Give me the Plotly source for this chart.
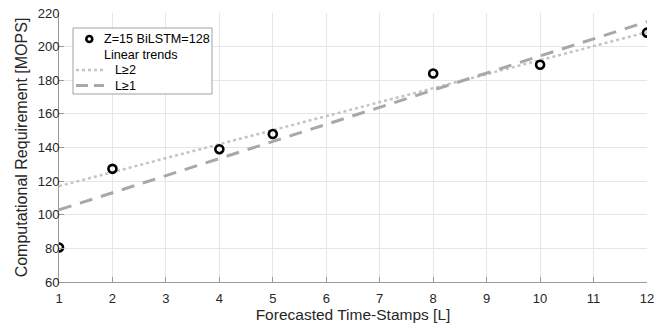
import plotly.graph_objects as go

timestamps = [1, 2, 4, 5, 8, 10, 12]
requirement = [80.5, 127.3, 139, 148, 184, 189.2, 208.3]

trend_x = [1, 12]
trend_l2 = [117.0, 208.6]
trend_l1 = [102.9, 214.8]

x_ticks = list(range(1, 13))
y_ticks = list(range(60, 221, 20))

legend_labels = ["Z=15 BiLSTM=128", "Linear trends", "L\u22652", "L\u22651"]

font_family = "Liberation Sans, Arial, sans-serif"
text_color = "#262626"

# plot area on screen spans x 59..647, y 13..282 (page body margin removed)
W, H = 670, 328
L_M, T_M = 59, 13
PW, PH = 588, 269
R_M, B_M = W - L_M - PW, H - T_M - PH
SX0, SY1 = 59, 282  # pixel of plot-area left / bottom


def px(sx):
    return (sx - SX0) / PW


def py(sy):
    return (SY1 - sy) / PH


fig = go.Figure()

fig.add_trace(go.Scatter(
    x=trend_x, y=trend_l2, mode="lines", name=legend_labels[2],
    line=dict(color="#c4c4c4", width=2.5, dash="dot"), showlegend=False,
))
fig.add_trace(go.Scatter(
    x=trend_x, y=trend_l1, mode="lines", name=legend_labels[3],
    line=dict(color="#a8a8a8", width=3, dash="13px,9px"), showlegend=False,
))
fig.add_trace(go.Scatter(
    x=timestamps, y=requirement, mode="markers", name=legend_labels[0],
    marker=dict(symbol="circle-open", size=8, color="black",
                line=dict(width=2.6, color="black")),
    showlegend=False,
))

axis_common = dict(
    showgrid=True, gridcolor="#e6e6e6", gridwidth=1,
    showline=True, linecolor="#9a9a9a", linewidth=1,
    ticks="inside", ticklen=5, tickcolor="#9a9a9a",
    tickfont=dict(size=13, color=text_color, family=font_family),
    zeroline=False, automargin=False, ticklabeloverflow="allow",
)

# hand-drawn legend (box, samples, labels)
shapes = [
    dict(type="rect", xref="paper", yref="paper",
         x0=px(73), x1=px(212), y0=py(28), y1=py(94),
         line=dict(color="#a0a0a0", width=1), fillcolor="white", layer="above"),
    dict(type="circle", xref="paper", yref="paper",
         x0=px(86.3), x1=px(92.3), y0=py(36), y1=py(42),
         line=dict(color="black", width=2.6), layer="above"),
    dict(type="line", xref="paper", yref="paper",
         x0=px(76), x1=px(104), y0=py(70), y1=py(70),
         line=dict(color="#c4c4c4", width=2.5, dash="dot"), layer="above"),
    dict(type="line", xref="paper", yref="paper",
         x0=px(76), x1=px(104), y0=py(85.5), y1=py(85.5),
         line=dict(color="#a8a8a8", width=3, dash="12px,6px"), layer="above"),
]
rows_y = [39, 54.5, 70, 85.5]
rows_x = [102, 102, 113, 113]
annotations = [
    dict(text=t, xref="paper", yref="paper", x=px(xx), y=py(yy),
         xanchor="left", yanchor="middle", showarrow=False,
         font=dict(size=12.6, color="black", family=font_family))
    for t, xx, yy in zip(legend_labels, rows_x, rows_y)
]

fig.update_layout(
    width=W, height=H,
    margin=dict(l=L_M, r=R_M, t=T_M, b=B_M),
    paper_bgcolor="white", plot_bgcolor="white",
    font=dict(family=font_family, color=text_color),
    xaxis=dict(
        range=[1, 12], tickvals=x_ticks, ticklabelstandoff=4,
        title=dict(text="Forecasted Time-Stamps [L]", font=dict(size=15.5, color=text_color), standoff=0),
        **axis_common,
    ),
    yaxis=dict(
        range=[60, 220], tickvals=y_ticks, ticklabelstandoff=-4,
        title=dict(text="Computational Requirement [MOPS]", font=dict(size=16, color=text_color), standoff=6),
        **axis_common,
    ),
    shapes=shapes,
    annotations=annotations,
    showlegend=False,
    hovermode=False,
)

fig.write_html(
    "out.html",
    config={"displayModeBar": False},
    post_script="document.body.style.margin='0';",
)
